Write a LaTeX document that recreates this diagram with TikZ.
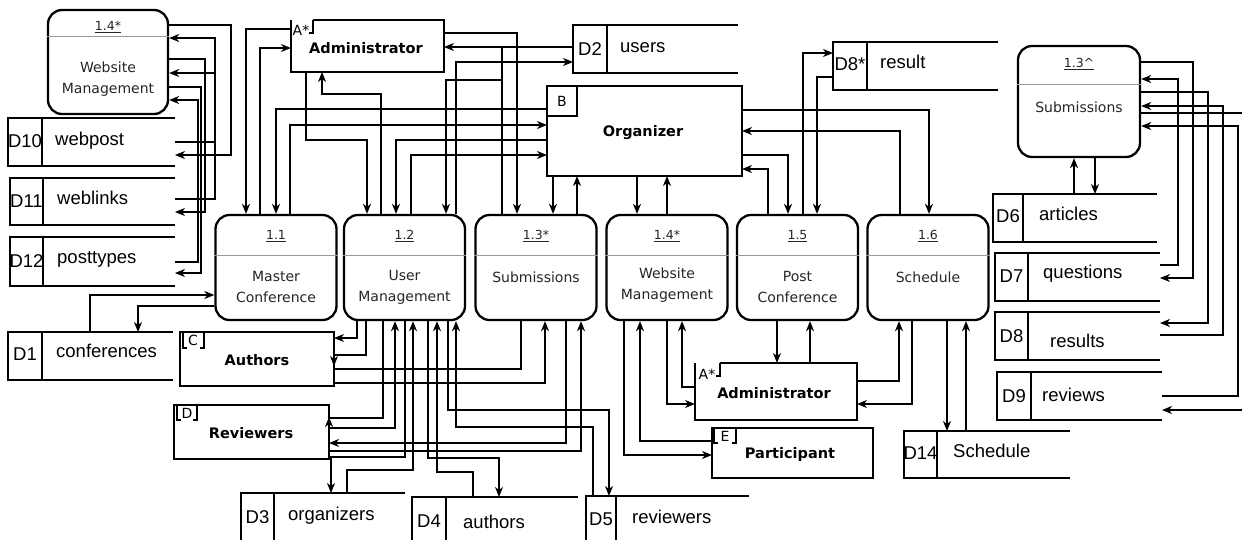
\documentclass[tikz,border=0pt]{standalone}
\usepackage{fontspec}
\setmainfont{Liberation Sans}
\newfontfamily\dvsans{DejaVu Sans}
\usetikzlibrary{arrows.meta}
\tikzset{
  ln/.style={line width=1.3pt},
  arr/.style={ln, -{Stealth[length=10pt,width=8pt,inset=3pt]}},
  proc/.style={draw, line width=2.3pt, rounded corners=14pt, minimum width=121pt, minimum height=105pt, inner sep=0pt},
  divider/.style={line width=1pt, draw=black!40},
  pnum/.style={font=\dvsans\fontsize{12.5}{15}\selectfont, inner sep=0pt, text=black!85},
  plab/.style={font=\dvsans\fontsize{14}{21}\selectfont, align=center, inner sep=0pt, text=black!85},
  elab/.style={font=\dvsans\bfseries\fontsize{14.5}{17}\selectfont, inner sep=0pt},
  tagt/.style={font=\dvsans\fontsize{14}{16}\selectfont, inner sep=0pt},
  slab/.style={font=\fontsize{18.5}{22}\selectfont, inner sep=0pt, anchor=base west},
  sid/.style={font=\fontsize{18.5}{22}\selectfont, inner sep=0pt, anchor=base},
  area/.style={inner sep=0pt, outer sep=0pt},
}
\newcommand\dstore[6]{%
  \pgfmathsetmacro\dsW{#4-#2}\pgfmathsetmacro\dsH{#6-#5}%
  \pgfmathsetmacro\dsX{(#2+#4)/2}\pgfmathsetmacro\dsY{(#5+#6)/2}%
  \node[area, minimum width=\dsW pt, minimum height=\dsH pt] (#1) at (\dsX,\dsY) {};
  \draw[ln] (#1.north east) -- (#1.north west) -- (#1.south west) -- (#1.south east);
  \draw[ln] (#3,#5) -- (#3,#6);
}
\newcommand\entbox[5]{%
  \pgfmathsetmacro\dsW{#4-#2}\pgfmathsetmacro\dsH{#5-#3}%
  \pgfmathsetmacro\dsX{(#2+#4)/2}\pgfmathsetmacro\dsY{(#3+#5)/2}%
  \node[area, minimum width=\dsW pt, minimum height=\dsH pt] (#1) at (\dsX,\dsY) {};
}
\begin{document}
\begin{tikzpicture}[x=1pt,y=-1pt]
\useasboundingbox (0,0) rectangle (1242,539);
\clip (0,0) rectangle (1242,539);
\fill[white] (0,0) rectangle (1242,539);

% ---------- processes ----------
\node[proc] (pw) at (108,62) [minimum width=120pt, minimum height=104pt] {};
\draw[divider] (pw.west |- 0,36) -- (pw.east |- 0,36);
\node[pnum] (pwn) at (108,27) {\underline{1.4*}};
\node[plab] (pwl) at (108,79) {Website\\Management};

\node[proc] (ps) at (1079,101.5) [minimum width=122pt, minimum height=111pt] {};
\draw[divider] (ps.west |- 0,84) -- (ps.east |- 0,84);
\node[pnum] (psn) at (1079,64) {\underline{1.3\textasciicircum}};
\node[plab] (psl) at (1079,107) {Submissions};

\node[proc] (p11) at (276,267.5) {};
\node[proc] (p12) at (404.5,267.5) {};
\node[proc] (p13) at (536,267.5) {};
\node[proc] (p14) at (667,267.5) {};
\node[proc] (p15) at (797.5,267.5) {};
\node[proc] (p16) at (928,267.5) {};
\foreach \p in {p11,p12,p13,p14,p15,p16}
  \draw[divider] (\p.west |- 0,255) -- (\p.east |- 0,255);
\node[pnum] (p11n) at (276,236) {\underline{1.1}};
\node[pnum] (p12n) at (404.5,236) {\underline{1.2}};
\node[pnum] (p13n) at (536,236) {\underline{1.3*}};
\node[pnum] (p14n) at (667,236) {\underline{1.4*}};
\node[pnum] (p15n) at (797.5,236) {\underline{1.5}};
\node[pnum] (p16n) at (928,236) {\underline{1.6}};
\node[plab] (p11l) at (276,287) {Master\\Conference};
\node[plab] (p12l) at (404.5,287) {User\\Management};
\node[plab] (p13l) at (536,277) {Submissions};
\node[plab] (p14l) at (667,285) {Website\\Management};
\node[plab] (p15l) at (797.5,287) {Post\\Conference};
\node[plab] (p16l) at (928,277) {Schedule};

% ---------- external entities ----------
\entbox{admA}{291}{20}{444}{72}
\draw[ln] (313,20) -- (admA.north east) -- (admA.south east) -- (admA.south west) -- (admA.north west);
\draw[ln] (313,20) -- (313,33) -- (309,33);
\node[tagt] (admAt) at (301,30) {A*};
\node[elab] (admAl) at (366,48) {Administrator};

\entbox{org}{547}{86}{742}{176}
\draw[ln] (org.north west) rectangle (org.south east);
\draw[ln] (547,116) -- (577,116) -- (577,86);
\node[tagt] (orgt) at (562,101) {B};
\node[elab] (orgl) at (643,133) {Organizer};

\entbox{auth}{180}{332}{334}{386}
\draw[ln] (auth.north west) rectangle (auth.south east);
\draw[ln] (183,332) -- (183,348) -- (187,348) (204,332) -- (204,348) -- (200,348);
\node[tagt] (autht) at (193,340) {C};
\node[elab] (authl) at (257,360) {Authors};

\entbox{rev}{174}{405}{329}{459}
\draw[ln] (rev.north west) rectangle (rev.south east);
\draw[ln] (177,405) -- (177,420) -- (181,420) (197,405) -- (197,420) -- (193,420);
\node[tagt] (revt) at (187,413) {D};
\node[elab] (revl) at (251,433) {Reviewers};

\entbox{admB}{695}{363}{857}{420}
\draw[ln] (720,363) -- (admB.north east) -- (admB.south east) -- (admB.south west) -- (admB.north west);
\draw[ln] (720,363) -- (720,376) -- (716,376);
\node[tagt] (admBt) at (707,374) {A*};
\node[elab] (admBl) at (774,393) {Administrator};

\entbox{part}{712}{428}{873}{478}
\draw[ln] (part.north west) rectangle (part.south east);
\draw[ln] (714,428) -- (714,443) -- (718,443) (736,428) -- (736,443) -- (732,443);
\node[tagt] (partt) at (725,436) {E};
\node[elab] (partl) at (790,454) {Participant};

% ---------- data stores ----------
\dstore{d10}{8}{42}{175}{118}{166}
\node[sid] (d10i) at (25,147) {D10};
\node[slab] (d10l) at (55,145) {webpost};
\dstore{d11}{10}{43}{175}{178}{225}
\node[sid] (d11i) at (26.5,207) {D11};
\node[slab] (d11l) at (57,204) {weblinks};
\dstore{d12}{10}{43}{175}{237}{286}
\node[sid] (d12i) at (26.5,267) {D12};
\node[slab] (d12l) at (57,263) {posttypes};
\dstore{d1}{8}{42}{173}{332}{380}
\node[sid] (d1i) at (25,360) {D1};
\node[slab] (d1l) at (56,357) {conferences};
\dstore{d2}{573}{607}{738}{25}{73}
\node[sid] (d2i) at (590,55) {D2};
\node[slab] (d2l) at (620,52) {users};
\dstore{d8s}{833}{867}{998}{42}{90}
\node[sid] (d8si) at (850,70) {D8*};
\node[slab] (d8sl) at (880,68) {result};
\dstore{d6}{993}{1023}{1157}{194}{242}
\node[sid] (d6i) at (1008,222) {D6};
\node[slab] (d6l) at (1039,220) {articles};
\dstore{d7}{995}{1028}{1160}{253}{301}
\node[sid] (d7i) at (1011.5,282) {D7};
\node[slab] (d7l) at (1043,278) {questions};
\dstore{d8}{995}{1028}{1160}{312}{360}
\node[sid] (d8i) at (1011.5,342) {D8};
\node[slab] (d8l) at (1050,347) {results};
\dstore{d9}{997}{1031}{1162}{372}{420}
\node[sid] (d9i) at (1014,402) {D9};
\node[slab] (d9l) at (1042,401) {reviews};
\dstore{d14}{904}{937}{1070}{431}{478}
\node[sid] (d14i) at (920.5,459) {D14};
\node[slab] (d14l) at (953,457) {Schedule};
\dstore{d3}{241}{274}{405}{493}{541}
\node[sid] (d3i) at (257.5,523) {D3};
\node[slab] (d3l) at (288,520) {organizers};
\dstore{d4}{412}{446}{578}{497}{541}
\node[sid] (d4i) at (429,527) {D4};
\node[slab] (d4l) at (463,528) {authors};
\dstore{d5}{586}{616}{749}{496}{541}
\node[sid] (d5i) at (601,525) {D5};
\node[slab] (d5l) at (632,523) {reviewers};

% ---------- connectors: website management (top left) ----------
\draw[arr] (pw.east |- 0,25) -| (231,155) -- (d10.east |- 0,155);
\draw[arr] (d10.east |- 0,142) -| (215,38) -- (pw.east |- 0,38);
\draw[arr] (pw.east |- 0,59) -| (205,212) -- (d11.east |- 0,212);
\draw[arr] (d11.east |- 0,199) -| (215,73) -- (pw.east |- 0,73);
\draw[arr] (pw.east |- 0,87) -| (201,273) -- (d12.east |- 0,273);
\draw[arr] (d12.east |- 0,262) -| (198,100) -- (pw.east |- 0,100);

% ---------- administrator (top) ----------
\draw[arr] (admA.west |- 0,29) -| (p11.north -| 246,0);
\draw[arr] (p11.north -| 260,0) |- (admA.west |- 0,48);
\draw[arr] (admA.south -| 306,0) |- (367,140) -- (p12.north -| 367,0);
\draw[arr] (p12.north -| 381,0) |- (322,94) -- (admA.south -| 322,0);
\draw[arr] (admA.east |- 0,33) -| (p13.north -| 517,0);
\draw[arr] (d2.west |- 0,47) -- (admA.east |- 0,47);
\draw[ln] (p13.north -| 502,0) -- (502,47);
\draw[arr] (502,80) -| (p12.north -| 446,0);
\draw[arr] (p12.north -| 456,0) |- (d2.west |- 0,62);

% ---------- organizer ----------
\draw[arr] (org.west |- 0,109) -| (p11.north -| 276,0);
\draw[arr] (p11.north -| 290,0) |- (org.west |- 0,125);
\draw[arr] (org.west |- 0,140) -| (p12.north -| 396,0);
\draw[arr] (p12.north -| 411,0) |- (org.west |- 0,155);
\draw[arr] (org.south -| 553,0) -- (p13.north -| 553,0);
\draw[arr] (p13.north -| 577,0) -- (org.south -| 577,0);
\draw[arr] (org.south -| 637,0) -- (p14.north -| 637,0);
\draw[arr] (p14.north -| 667,0) -- (org.south -| 667,0);
\draw[arr] (org.east |- 0,110) -| (p16.north -| 929,0);
\draw[arr] (p16.north -| 900,0) |- (org.east |- 0,131);
\draw[arr] (org.east |- 0,155) -| (p15.north -| 788,0);
\draw[arr] (p15.north -| 768,0) |- (org.east |- 0,169);
\draw[arr] (p15.north -| 803,0) |- (d8s.west |- 0,53);
\draw[arr] (d8s.west |- 0,77) -| (p15.north -| 817,0);

% ---------- submissions (top right) ----------
\draw[arr] (ps.east |- 0,62) -| (1193,278) -- (d7.east |- 0,278);
\draw[arr] (d7.east |- 0,265) -| (1178,79) -- (ps.east |- 0,79);
\draw[arr] (ps.east |- 0,92) -| (1208,323) -- (d8.east |- 0,323);
\draw[arr] (d8.east |- 0,335) -| (1223,106) -- (ps.east |- 0,106);
\draw[arr] (ps.east |- 0,113) -| (1252,410) -- (d9.east |- 0,410);
\draw[arr] (d9.east |- 0,396) -| (1238,126) -- (ps.east |- 0,126);
\draw[arr] (d6.north -| 1074,0) -- (ps.south -| 1074,0);
\draw[arr] (ps.south -| 1095,0) -- (d6.north -| 1095,0);

% ---------- master conference ----------
\draw[arr] (d1.north -| 90,0) |- (p11.west |- 0,295);
\draw[arr] (p11.west |- 0,306) -| (d1.north -| 138,0);

% ---------- user management / submissions bottom ----------
\draw[arr] (p12.south -| 357,0) |- (auth.east |- 0,338);
\draw[arr] (p12.south -| 366,0) |- (auth.east |- 0,355) -- (auth.east |- 0,366);
\draw[ln] (p13.south -| 521,0) |- (auth.east |- 0,369);
\draw[arr] (auth.east |- 0,383) -| (p13.south -| 545,0);
\draw[ln] (p12.south -| 383,0) |- (rev.east |- 0,418);
\draw[arr] (rev.east |- 0,431) -- (rev.east |- 0,417);
\draw[arr] (rev.east |- 0,428) -| (p12.south -| 395,0);
\draw[arr] (p13.south -| 566,0) |- (rev.east |- 0,443);
\draw[arr] (rev.east |- 0,451) -| (p13.south -| 581,0);
\draw[arr] (p12.south -| 405,0) |- (331,457) -- (d3.north -| 331,0);
\draw[arr] (d3.north -| 347,0) |- (413,470) -- (p12.south -| 413,0);
\draw[arr] (p12.south -| 428,0) |- (499,458) -- (d4.north -| 499,0);
\draw[arr] (d4.north -| 473,0) |- (437,472) -- (p12.south -| 437,0);
\draw[arr] (p12.south -| 448,0) |- (609,410) -- (d5.north -| 609,0);
\draw[arr] (d5.north -| 593,0) |- (456,427) -- (p12.south -| 456,0);

% ---------- website management / post conference / schedule ----------
\draw[arr] (p14.south -| 624,0) |- (part.west |- 0,455);
\draw[arr] (part.west |- 0,441) -| (p14.south -| 640,0);
\draw[arr] (p14.south -| 667,0) |- (admB.west |- 0,404);
\draw[arr] (admB.west |- 0,387) -| (p14.south -| 682,0);
\draw[arr] (p15.south -| 777,0) -- (admB.north -| 777,0);
\draw[arr] (admB.north -| 810,0) -- (p15.south -| 810,0);
\draw[arr] (admB.east |- 0,381) -| (p16.south -| 899,0);
\draw[arr] (p16.south -| 912,0) |- (admB.east |- 0,404);
\draw[arr] (p16.south -| 947,0) -- (d14.north -| 947,0);
\draw[arr] (d14.north -| 966,0) -- (p16.south -| 966,0);
\end{tikzpicture}
\end{document}
